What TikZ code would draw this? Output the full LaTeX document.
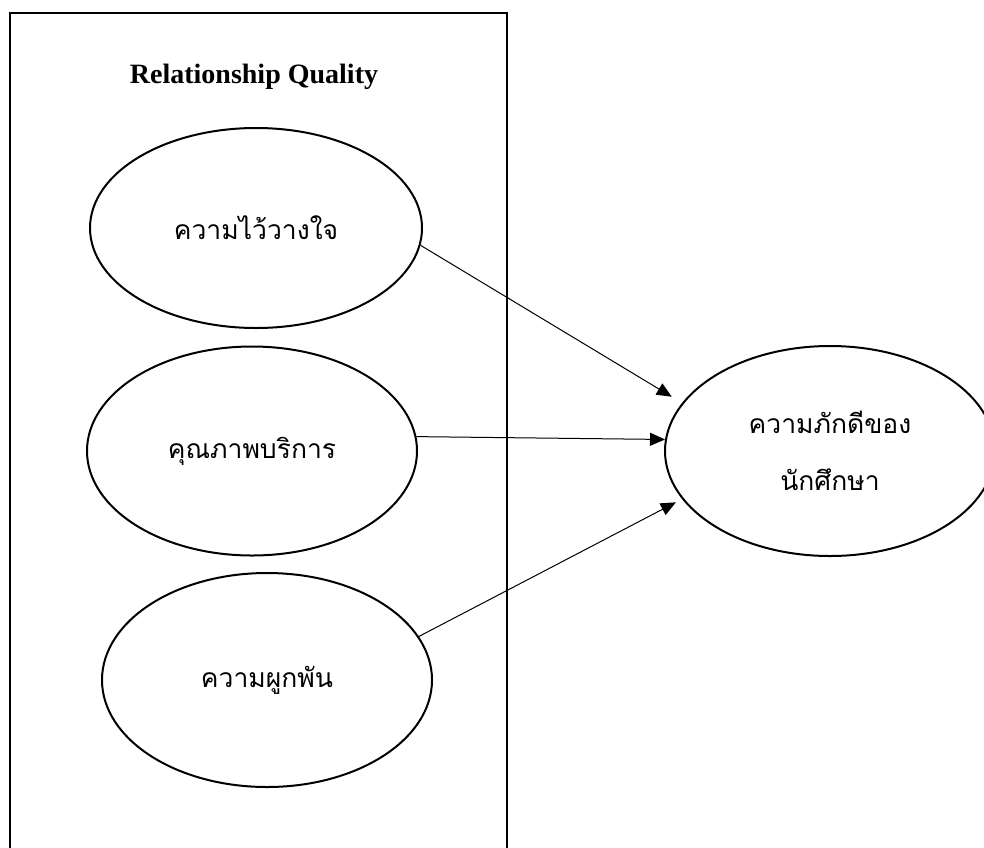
\documentclass[tikz,border=0pt]{standalone}
\usepackage{fontspec}
\setmainfont{Liberation Serif}
\newfontfamily\thaifont[Script=Thai]{Loma}
\usetikzlibrary{shapes.geometric,arrows.meta}
\begin{document}
\begin{tikzpicture}[x=1pt,y=-1pt,
  oval/.style={ellipse,draw,line width=2pt,inner sep=0pt,align=center,
    font=\thaifont\fontsize{26.5}{57}\selectfont},
  link/.style={line width=1pt,-{Triangle[length=15pt,width=13pt]}},
  frame/.style={line width=2.4pt}]
\useasboundingbox (0,0) rectangle (984,847);
\clip (0,0) rectangle (984,847);
\draw[frame] (10,13) rectangle (507,900);
\node[font=\bfseries\fontsize{28}{34}\selectfont] (title) at (254,77) {Relationship Quality};
\node[oval,minimum width=332pt,minimum height=200pt] (e1) at (256,228) {ความไว้วางใจ};
\node[oval,minimum width=330pt,minimum height=209pt] (e2) at (252,451) {คุณภาพบริการ};
\node[oval,minimum width=330pt,minimum height=214pt] (e3) at (267,680) {ความผูกพัน};
\node[oval,minimum width=330pt,minimum height=210pt] (e4) at (830,451) {ความภักดีของ\\นักศึกษา};
\draw[link,shorten >=12pt] (e1.-6) -- (e4.162.5);
\draw[link] (e2.5) -- (e4.176);
\draw[link,shorten >=7pt] (e3.16) -- (e4.-162);
\end{tikzpicture}
\end{document}
